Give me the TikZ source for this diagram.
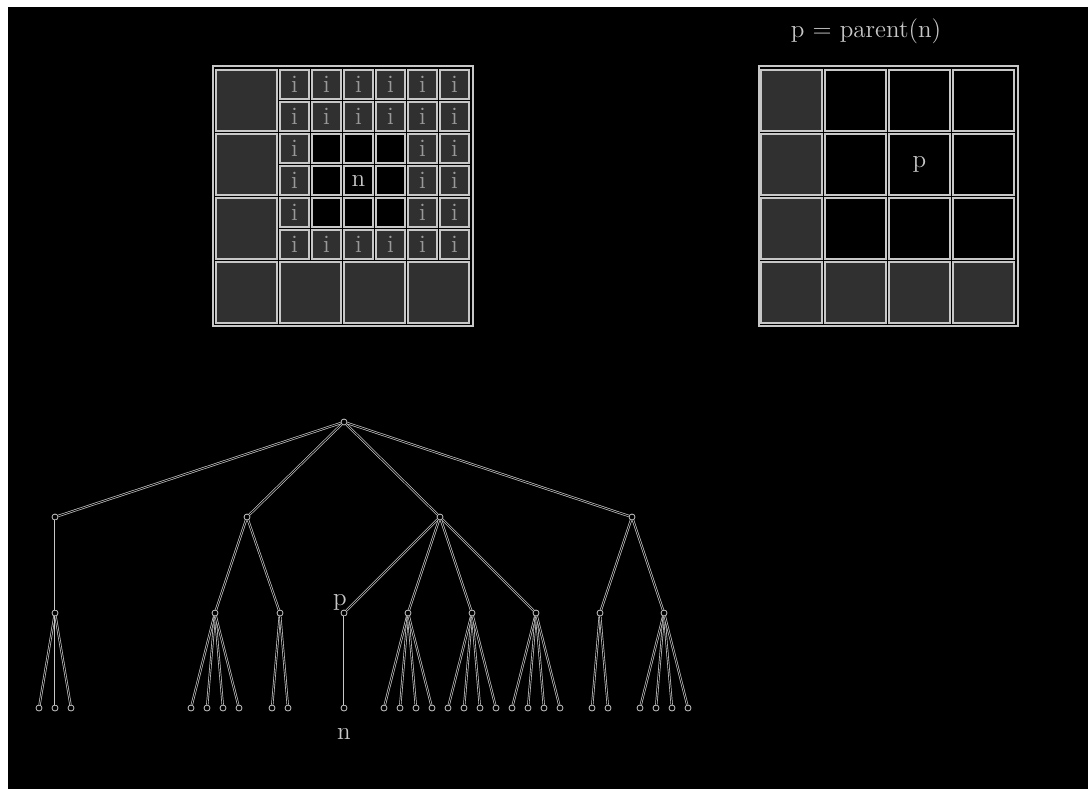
\documentclass[tikz,border=0pt]{standalone}
\usepackage{tikz}
\usetikzlibrary{positioning, calc}
\definecolor{lnclr}{gray}{0.78}
\definecolor{shclr}{gray}{0.19}
\definecolor{icolr}{gray}{0.6}

\begin{document}
\begin{tikzpicture}[
    x=0.5pt, y=-0.5pt,
    every node/.style={font=\fontsize{12.5}{15}\selectfont, text=lnclr},
    dot/.style={circle, draw=lnclr, fill=black, line width=0.4pt, minimum size=3pt, inner sep=0pt},
    edge/.style={draw=lnclr, line width=0.35pt, double=black, double distance=0.45pt},
    frame/.style={draw=lnclr, line width=0.8pt},
    bigcell/.style={draw=lnclr, line width=0.6pt, minimum size=30.5pt, inner sep=0pt},
    smallcell/.style={draw=lnclr, line width=0.6pt, minimum size=14.5pt, inner sep=0pt},
    greycell/.style={fill=shclr, text=icolr}
]
\useasboundingbox (0,0) rectangle (1088,789);
\fill[white] (0,0) rectangle (1088,789);
\fill[black] (8,7) rectangle (1088,789);

% left grid: coarse cells
\draw[frame] (213,66) rectangle (473,326);
\foreach \c/\r in {0/0, 0/1, 0/2, 0/3, 1/3, 2/3, 3/3}
    \node[bigcell, greycell] (lb-\c-\r) at (246.5+64*\c, 100.5+64*\r) {};
% left grid: fine cells round n
\foreach \c in {0,...,5}
  \foreach \r in {0,...,5} {
    \pgfmathtruncatemacro\hole{(\r>1)&&(\r<5)&&(\c>0)&&(\c<4)}
    \ifnum\hole=1
      \node[smallcell] (ls-\c-\r) at (294.5+32*\c, 84.5+32*\r) {};
    \else
      \node[smallcell, greycell] (ls-\c-\r) at (294.5+32*\c, 84.5+32*\r) {i};
    \fi
  }
\node (nmark) at (ls-2-3) {n};

% right grid
\node (title) at (866,31) {p = parent(n)};
\draw[frame] (759,66) rectangle (1018,326);
\foreach \c/\r in {0/0, 0/1, 0/2, 0/3, 1/3, 2/3, 3/3}
    \node[bigcell, greycell] (rb-\c-\r) at (791.5+64*\c, 100.5+64*\r) {};
\foreach \c/\r in {1/0, 2/0, 3/0, 1/1, 2/1, 3/1, 1/2, 2/2, 3/2}
    \node[bigcell] (rb-\c-\r) at (791.5+64*\c, 100.5+64*\r) {};
\node (pmark) at (rb-2-1) {p};

% tree
\node[dot] (root) at (344,422) {};
\foreach \x/\nm in {55/a, 247/b, 440/c, 632/d}
    \node[dot] (\nm) at (\x,517) {};
\foreach \x/\nm in {55/a1, 215/b1, 280/b2, 344/c1, 408/c2, 472/c3, 536/c4, 600/d1, 664/d2}
    \node[dot] (\nm) at (\x,613) {};
\foreach \u/\v in {root/a, root/b, root/c, root/d, a/a1, b/b1, b/b2,
                   c/c1, c/c2, c/c3, c/c4, d/d1, d/d2}
    \draw[edge] (\u) -- (\v);
% leaves
\foreach \pn/\k in {a1/3, b1/4, b2/2, c1/1, c2/4, c3/4, c4/4, d1/2, d2/4}
  \foreach \j in {1,...,\k} {
    \pgfmathsetmacro\off{16*(\j-(\k+1)/2)}
    \node[dot] (\pn-\j) at ($(\pn)+(\off,95)$) {};
    \draw[edge] (\pn) -- (\pn-\j);
  }
\node[above=-4pt of c1, xshift=-2pt] (plabel) {p};
\node[below=5pt of c1-1] (nlabel) {n};
\end{tikzpicture}
\end{document}
